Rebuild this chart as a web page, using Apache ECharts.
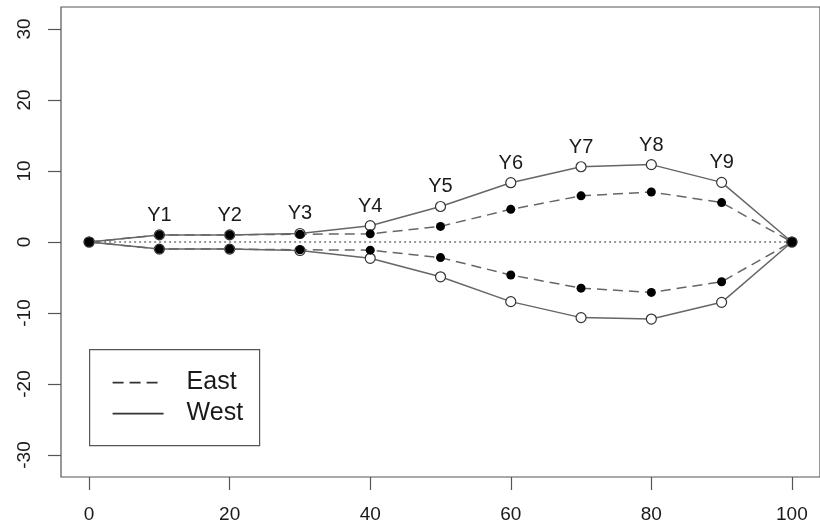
<!DOCTYPE html>
<html>
<head>
<meta charset="utf-8">
<script src="https://cdn.jsdelivr.net/npm/echarts@6/dist/echarts.min.js"></script>
<style>
  html, body { margin: 0; padding: 0; background: #fff; }
  #chart { width: 820px; height: 529px; }
</style>
</head>
<body>
<div id="chart"></div>
<script>
// Positions along the profile and the point labels above the upper West curve
const xs = [0, 10, 20, 30, 40, 50, 60, 70, 80, 90, 100];
const pointLabels = ['', 'Y1', 'Y2', 'Y3', 'Y4', 'Y5', 'Y6', 'Y7', 'Y8', 'Y9', ''];

// Upper and lower envelopes for each group
const westUpper = [0, 1.0, 1.0, 1.2, 2.3, 5.0, 8.35, 10.6, 10.9, 8.4, 0];
const westLower = [0, -1.0, -1.0, -1.2, -2.3, -4.9, -8.4, -10.65, -10.85, -8.5, 0];
const eastUpper = [0, 1.0, 1.0, 1.1, 1.15, 2.2, 4.6, 6.5, 7.05, 5.55, 0];
const eastLower = [0, -1.0, -1.0, -1.1, -1.15, -2.2, -4.65, -6.5, -7.1, -5.6, 0];

// Axis tick values
const xTicks = [0, 20, 40, 60, 80, 100];
const yTicks = [-30, -20, -10, 0, 10, 20, 30];

const pairs = ys => xs.map((x, i) => [x, ys[i]]);

const FONT = '"Liberation Sans", Arial, Helvetica, sans-serif';
const LINE = '#666';
const DARK = '#1a1a1a';

const chart = echarts.init(document.getElementById('chart'), null, { renderer: 'canvas' });

const openPoint = {
  type: 'line', symbol: 'circle', symbolSize: 10, z: 3,
  lineStyle: { color: LINE, width: 1.5, type: 'solid' },
  itemStyle: { color: '#fff', borderColor: '#333', borderWidth: 1.2 }
};
const filledPoint = {
  type: 'line', symbol: 'circle', symbolSize: 9, z: 4,
  lineStyle: { color: LINE, width: 1.5, type: [10, 6] },
  itemStyle: { color: '#000', borderColor: '#000', borderWidth: 0 }
};

chart.setOption({
  animation: false,
  backgroundColor: '#fff',
  grid: {
    left: 61, top: 7, width: 766, height: 470,
    show: true, borderColor: '#555', borderWidth: 1.2, backgroundColor: 'transparent'
  },
  xAxis: {
    type: 'value', min: -4, max: 104,
    splitLine: { show: false },
    axisLine: { show: false, onZero: false },
    axisTick: { show: true, customValues: xTicks, length: 13, lineStyle: { color: '#555', width: 1.2 } },
    axisLabel: { customValues: xTicks, margin: 28, fontSize: 19, color: DARK, fontFamily: FONT }
  },
  yAxis: {
    type: 'value', min: -33.1, max: 33.1,
    splitLine: { show: false },
    axisLine: { show: false, onZero: false },
    axisTick: { show: true, customValues: yTicks, length: 13, lineStyle: { color: '#555', width: 1.2 } },
    axisLabel: { customValues: yTicks, rotate: 90, margin: 27, fontSize: 19, color: DARK, fontFamily: FONT }
  },
  series: [
    {
      name: 'zero', type: 'line', symbol: 'none', z: 1,
      data: [[xs[0], 0], [xs[xs.length - 1], 0]],
      lineStyle: { color: '#777', width: 1.3, type: [2, 3] }
    },
    Object.assign({}, openPoint, {
      name: 'West', data: pairs(westUpper),
      label: {
        show: true, position: 'top', distance: 4,
        fontSize: 20, color: DARK, fontFamily: FONT,
        formatter: p => pointLabels[p.dataIndex]
      }
    }),
    Object.assign({}, openPoint, { name: 'West', data: pairs(westLower) }),
    Object.assign({}, filledPoint, { name: 'East', data: pairs(eastUpper) }),
    Object.assign({}, filledPoint, { name: 'East', data: pairs(eastLower) })
  ],
  graphic: [
    {
      type: 'group', left: 89, top: 349,
      children: [
        { type: 'rect', shape: { x: 0, y: 0, width: 170, height: 96 },
          style: { fill: '#fff', stroke: '#555', lineWidth: 1.2 } },
        { type: 'line', shape: { x1: 23, y1: 33, x2: 74, y2: 33 },
          style: { stroke: '#333', lineWidth: 1.8, lineDash: [11, 6] } },
        { type: 'line', shape: { x1: 23, y1: 64, x2: 74, y2: 64 },
          style: { stroke: '#333', lineWidth: 1.8 } },
        { type: 'text', x: 97, y: 33,
          style: { text: 'East', fontSize: 25, fontFamily: FONT, fill: DARK, verticalAlign: 'middle' } },
        { type: 'text', x: 97, y: 64,
          style: { text: 'West', fontSize: 25, fontFamily: FONT, fill: DARK, verticalAlign: 'middle' } }
      ]
    }
  ]
});
</script>
</body>
</html>
